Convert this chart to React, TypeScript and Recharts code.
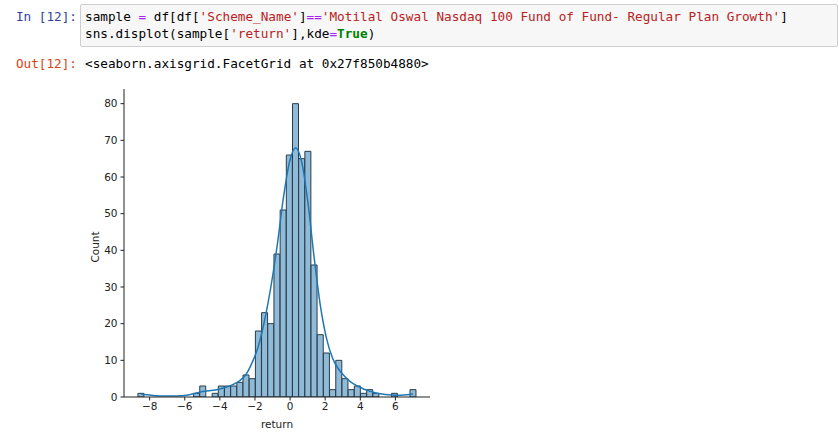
import { ComposedChart, Bar, Line, XAxis, YAxis } from "recharts"

// bin centres of the histogram (return)
const binCenters = [
  -8.491, -8.139, -7.787, -7.434, -7.082, -6.73, -6.378, -6.026, -5.673, -5.321,
  -4.969, -4.617, -4.265, -3.912, -3.56, -3.208, -2.856, -2.504, -2.151, -1.799,
  -1.447, -1.095, -0.743, -0.39, -0.038, 0.314, 0.666, 1.018, 1.371, 1.723,
  2.075, 2.427, 2.779, 3.132, 3.484, 3.836, 4.188, 4.54, 4.893, 5.245,
  5.597, 5.949, 6.301, 6.654, 7.006,
]
const counts = [
  1, 0, 0, 0, 0, 0, 0, 0, 0, 1,
  3, 0, 1, 3, 3, 3, 4, 6, 5, 18,
  23, 20, 39, 51, 66, 80, 65, 67, 36, 17,
  12, 2, 10, 5, 2, 3, 1, 2, 1, 0,
  0, 1, 0, 0, 2,
]
const kde = [
  0.8, 0.6, 0.4, 0.3, 0.25, 0.25, 0.3, 0.4, 0.7, 1.1,
  1.5, 1.7, 1.9, 2.3, 2.8, 3.5, 4.5, 6.2, 9.5, 14,
  21, 30, 41, 54, 64, 68, 64, 53, 38, 25,
  16, 10.5, 7.5, 5.5, 4, 3, 2.2, 1.6, 1.1, 0.8,
  0.6, 0.5, 0.5, 0.6, 0.8,
]
const xTicks = [-8, -6, -4, -2, 0, 2, 4, 6]
const yTicks = [0, 10, 20, 30, 40, 50, 60, 70, 80]

const data = binCenters.map((x, i) => ({ x, count: counts[i], kde: kde[i] }))

const mono = "'DejaVu Sans Mono', monospace"
const tickFont = { fontSize: 10.5, fill: "#222", fontFamily: "'DejaVu Sans', sans-serif" }

const OP = "#AA22FF"
const STR = "#BA2121"

export default function App() {
  return (
    <div style={{ position: "fixed", left: 0, top: 0, width: 839, height: 443, background: "#fff", overflow: "hidden" }}>
      {/* input prompt */}
      <div style={{ position: "absolute", left: 0, width: 77, top: 8, textAlign: "right", fontFamily: mono, fontSize: 12.7, lineHeight: "17px", color: "#303F9F" }}>
        In [12]:
      </div>
      <div style={{ position: "absolute", left: 80, top: 4, width: 758, height: 43, boxSizing: "border-box", background: "#f7f7f7", border: "1px solid #cfcfcf", borderRadius: 2 }} />
      <div style={{ position: "absolute", left: 85, top: 8, fontFamily: mono, fontSize: 12.7, lineHeight: "17px", color: "#000", whiteSpace: "pre" }}>
        <div>
          sample <span style={{ color: OP }}>=</span> df[df[<span style={{ color: STR }}>'Scheme_Name'</span>]<span style={{ color: OP }}>==</span><span style={{ color: STR }}>'Motilal Oswal Nasdaq 100 Fund of Fund- Regular Plan Growth'</span>]
        </div>
        <div>
          sns.displot(sample[<span style={{ color: STR }}>'return'</span>],kde<span style={{ color: OP }}>=</span><span style={{ color: "#008000", fontWeight: "bold" }}>True</span>)
        </div>
      </div>

      {/* output prompt */}
      <div style={{ position: "absolute", left: 0, width: 77, top: 55, textAlign: "right", fontFamily: mono, fontSize: 12.7, lineHeight: "17px", color: "#D84315" }}>
        Out[12]:
      </div>
      <div style={{ position: "absolute", left: 85, top: 55, fontFamily: mono, fontSize: 12.7, lineHeight: "17px", color: "#000", whiteSpace: "pre" }}>
        {"<seaborn.axisgrid.FacetGrid at 0x27f850b4880>"}
      </div>

      {/* histogram */}
      <div style={{ position: "absolute", left: 0, top: 0 }}>
        <ComposedChart
          width={460}
          height={443}
          data={data}
          margin={{ top: 89, right: 30, bottom: 16, left: 84 }}
          barCategoryGap={0}
          barGap={0}
        >
          <XAxis
            dataKey="x"
            type="number"
            domain={[-9.46, 7.97]}
            ticks={xTicks}
            allowDataOverflow
            height={30}
            stroke="#222"
            tickSize={3.5}
            tickMargin={2}
            tick={tickFont}
            tickFormatter={(v: number) => String(v).replace("-", "\u2212")}
          />
          <YAxis
            type="number"
            domain={[0, 84]}
            ticks={yTicks}
            allowDataOverflow
            width={40}
            stroke="#222"
            tickSize={3.5}
            tickMargin={3}
            tick={tickFont}
          />
          <Bar dataKey="count" fill="#8fbbd9" stroke="#2c3b47" strokeWidth={1} isAnimationActive={false} />
          <Line dataKey="kde" type="monotone" stroke="#1f77b4" strokeWidth={1.5} dot={false} isAnimationActive={false} />
        </ComposedChart>
      </div>
      <div style={{ position: "absolute", left: 95, top: 247, transform: "translate(-50%, -50%) rotate(-90deg)", fontFamily: "'DejaVu Sans', sans-serif", fontSize: 10.5, color: "#222" }}>
        Count
      </div>
      <div style={{ position: "absolute", left: 277, top: 424, transform: "translate(-50%, -50%)", fontFamily: "'DejaVu Sans', sans-serif", fontSize: 10.5, color: "#222" }}>
        return
      </div>
    </div>
  )
}
